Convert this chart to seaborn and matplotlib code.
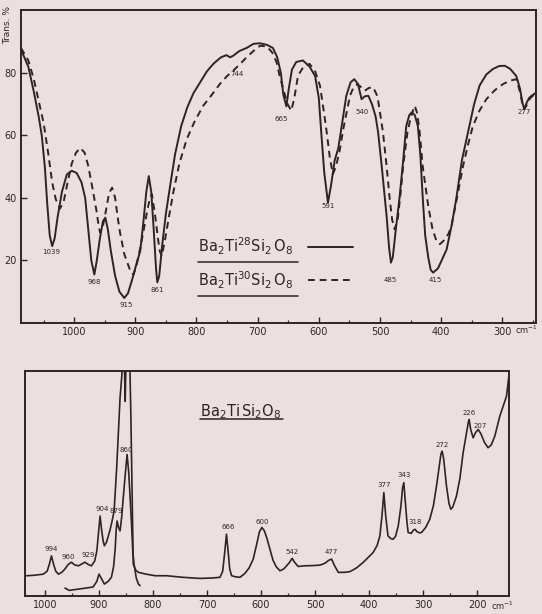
import matplotlib
matplotlib.use("Agg")
import matplotlib.pyplot as plt
import numpy as np
import pandas as pd
import seaborn as sns

# ---- IR spectrum, Ba2Ti(28)Si2O8 (solid) ----
ir28_wn = [1087, 1075, 1066, 1058, 1053, 1048, 1044, 1040, 1036, 1032, 1027, 1020, 1012, 1004,
           996, 988, 982, 977, 972, 967, 963, 958, 953, 949, 945, 940, 933, 926, 918, 912,
           905, 898, 892, 887, 882, 878, 874, 870, 866, 864, 861, 856, 850, 843, 835, 825,
           815, 805, 794, 783, 772, 760, 751, 745, 740, 730, 718, 707, 696, 685, 675, 668,
           662, 658, 653, 649, 644, 637, 626, 615, 606, 600, 596, 591, 585, 580, 574, 568,
           561, 555, 548, 542, 536, 530, 525, 519, 513, 507, 503, 497, 492, 489, 485, 482,
           479, 474, 468, 462, 457, 452, 448, 443, 438, 434, 430, 426, 421, 417, 413, 405,
           398, 391, 383, 375, 366, 356, 346, 337, 326, 315, 305, 296, 287, 277, 271, 267,
           264, 260, 256, 252, 246]
ir28_t = [87.5, 82, 74, 66, 60, 50, 38, 28, 24.6, 27, 34, 42, 47.5, 48.7,
          48, 45, 40, 30, 20, 15.5, 20, 27, 32.5, 33.7, 30, 23, 15, 10, 8, 9.5,
          14, 19, 23, 32, 42, 47, 42, 30, 17, 13, 15, 25, 35, 44, 54, 63,
          69, 73.5, 77, 80.5, 83, 85, 85.7, 85, 85.5, 87, 88, 89.3, 89.5, 89, 88, 85,
          80, 73, 69.3, 75, 81, 83.5, 84, 82, 79, 72, 61, 48, 38.5, 44, 52, 56,
          65, 72.7, 77, 78, 76.5, 71.6, 72.5, 72.7, 70, 66, 61, 50, 40, 34, 24, 19.3,
          21, 30, 40, 52, 63, 66.5, 67.4, 66.5, 63, 54, 40, 28, 21, 17, 16.1, 17.5,
          20.5, 23.5, 31, 40, 52, 61, 70, 76, 79.5, 81.3, 82.2, 82.3, 81.3, 79, 75, 70.5,
          68.4, 70.5, 72, 72.7, 73.5]

# ---- IR spectrum, Ba2Ti(30)Si2O8 (dashed) ----
ir30_wn = [1087, 1075, 1066, 1058, 1050, 1043, 1036, 1030, 1023, 1017, 1012, 1004, 997, 990,
           983, 977, 970, 963, 960, 957.5, 953, 948, 943, 938, 933, 929, 925, 918, 911, 907,
           903, 898, 892, 887, 880, 876, 873, 868, 863, 860, 857, 852, 845, 838, 828, 816,
           803, 789, 775, 762, 750, 740, 728, 718, 707, 696, 685, 676, 669, 664, 658, 651,
           645, 640, 634, 625, 615, 606, 598, 592, 587, 582, 577, 572, 566, 560, 549, 543,
           537, 531, 525, 518, 511, 504, 495, 489, 484, 480, 476, 471, 466, 462, 455, 449,
           443, 439, 435, 430, 425, 421, 414, 408, 402, 395, 388, 383, 374, 364, 356, 348,
           337, 326, 312, 299, 288, 277, 271, 267, 264, 259, 254, 250, 246]
ir30_t = [88, 84, 78, 71, 64, 55, 45, 39.5, 36.6, 39, 43.8, 51, 54.5, 56,
          54.5, 50.3, 43, 35.3, 31, 28.9, 31, 36, 41.5, 43.3, 40, 34, 28.9, 22, 18.2, 16,
          15.5, 18.5, 24, 29, 36.5, 40, 41.2, 35, 27, 23, 21.4, 26, 34, 41.7, 51, 58.8,
          64.5, 69.5, 73, 76.4, 79, 80.7, 83, 85, 87, 88.7, 88.5, 86.5, 83.4, 79, 74.8, 70,
          67.9, 72, 79.1, 82, 82.9, 80.5, 75.9, 68, 61, 53, 47.6, 50, 55, 62, 72.7, 75.5,
          76.4, 75.5, 74.3, 75.2, 75.4, 72.5, 61, 50, 39.6, 33, 30, 33, 42, 50.3, 61, 66.3,
          69.5, 67, 61, 50, 43, 37.4, 30, 26.5, 25.2, 26.5, 28.5, 31, 40, 50.3, 57, 63,
          68, 71.6, 74.5, 76.4, 77.5, 78, 74, 70, 68.4, 70, 72, 72.7, 73.5]

ir_labels = ["1039", "968", "915", "861", "744", "665", "591", "540", "485", "415", "277"]
ir_label_wn = [1037.6, 967.3, 915, 864.5, 734, 662, 585, 529.7, 482.4, 409, 263.6]
ir_label_t = [22.6, 13, 5.9, 10.4, 79.6, 65.2, 37.4, 67.4, 13.9, 13.6, 67.4]

# ---- Raman spectrum, Ba2TiSi2O8 ----
ram_wn = [1034, 1020, 1010, 1003, 996, 992, 988, 984, 980, 975, 969, 963, 957, 951,
          945, 938, 932, 926, 920, 914, 908, 904, 901, 898, 895, 892, 890, 886, 880, 876,
          872, 870, 867, 864, 861, 858, 856, 853, 851.5, 850, 843, 841, 839.6, 838, 836.6,
          832, 827, 815, 796, 775, 745, 713, 690, 676, 671, 667, 664, 661, 658, 654.5,
          647, 639, 630, 622, 614.5, 608, 603, 598.5, 594, 589, 583.6, 578, 572, 565, 558,
          552.7, 547, 542.4, 538, 531.3, 520, 505, 491, 482, 475, 469.5, 464, 457, 446,
          435.6, 423, 411, 400, 392.5, 385, 380, 376, 372.7, 369, 365, 360, 355.5, 351,
          346, 341, 338, 335.7, 333, 330, 327.7, 322, 318, 315, 311, 306, 302.9, 295,
          287.6, 281, 275.2, 270, 267, 264.8, 262, 256.7, 252, 248.7, 245, 238.2, 232,
          225.9, 220, 216, 214.8, 212, 207.4, 203, 198, 193, 186, 179.7, 174, 167.3, 158,
          150, 145.7, 141]
ram_i = [9.0, 9.2, 9.5, 9.7, 11, 14, 17.8, 14, 11, 9.7, 10.5, 12, 14, 15,
         13.8, 13.4, 14.2, 15, 14, 13.4, 15.5, 20, 28, 35.5, 29, 24, 22.3, 24, 28.9, 33,
         37.7, 46, 58, 73, 88, 97, 104, 104, 86.4, 104, 104, 80, 58.4, 35, 14.2,
         11.5, 10.5, 9.8, 9.0, 9.0, 8.3, 7.8, 8.0, 8.3, 11, 20, 27.4, 20, 12, 9.0,
         8.5, 8.3, 10, 12.5, 16.4, 23, 28.5, 30.4, 29, 25.5, 20.8, 16, 13, 11.2, 12,
         13.4, 15, 16.7, 15, 13.1, 13.4, 13.5, 13.7, 14.5, 15.8, 16.4, 13.5, 10.5, 10.5,
         10.8, 12.5, 14.9, 17.5, 19.3, 22.5, 26.7, 36, 45.9, 35, 26.7, 25.5, 25.2, 26.5,
         31.1, 40, 48, 50.3, 42, 33, 28.2, 27.8, 29.2, 29.6, 28.5, 28, 28.2, 30.5,
         34.1, 40, 48.8, 58, 63, 64.3, 61, 48.8, 41, 38.5, 39.5, 44.4, 52,
         63.6, 72, 77.5, 78.3, 74, 70.2, 72.5, 73.9, 72, 68, 65.8, 67, 70.9, 79.8,
         85.5, 88.6, 98]

# lower-gain trace of the 860 band
ram_low_wn = [963, 955, 940, 925, 911, 904, 900, 896, 890, 883, 877, 873, 870, 868, 866.5,
              864, 861, 858, 855, 851, 848, 845, 842, 840, 837.5, 835, 831, 827, 824]
ram_low_i = [3.5, 2.5, 3, 3.5, 4, 6.5, 9.7, 8, 5.3, 6.5, 8.3, 13, 21, 30, 33.3,
             30.5, 28.9, 35, 43.8, 55, 62.8, 55, 42, 33, 20, 14, 8, 5.3, 4.6]

ram_labels = ["994", "960", "929", "904", "879", "860", "666", "600", "542", "477",
              "377", "343", "318", "272", "226", "207"]
ram_label_wn = [988.9, 957.4, 920.4, 894.5, 868.6, 848.8, 661.4, 598.4, 542.9, 468.9,
                372.7, 335.7, 315.3, 264.1, 214.4, 193.8]
ram_label_i = [20.8, 17.3, 18.1, 38.5, 37.6, 65, 30.5, 32.7, 19.5, 19.5,
               49.1, 53.5, 32.7, 66.8, 81.4, 75.4]

paper = "#ebe0df"
ink = "#2b2527"

sns.set_style("ticks")
plt.rcParams["font.family"] = ["DejaVu Sans"]

fig = plt.figure(figsize=(5.42, 6.14), dpi=100)
fig.patch.set_facecolor(paper)

ax1 = fig.add_axes([0.0387, 0.474, 0.950, 0.509])
ax2 = fig.add_axes([0.0461, 0.0293, 0.893, 0.367])

for ax in (ax1, ax2):
    ax.set_facecolor(paper)
    for s in ax.spines.values():
        s.set_color(ink)
        s.set_linewidth(1.4)
    ax.tick_params(direction="in", colors=ink, labelsize=7, width=1.0, length=4, pad=3)
    ax.tick_params(which="minor", direction="in", colors=ink, width=0.9, length=2.5)

# top: IR
df28 = pd.DataFrame({"wn": ir28_wn, "T": ir28_t})
df30 = pd.DataFrame({"wn": ir30_wn, "T": ir30_t})
sns.lineplot(data=df28, x="wn", y="T", ax=ax1, sort=False, estimator=None,
             color=ink, linewidth=1.4)
sns.lineplot(data=df30, x="wn", y="T", ax=ax1, sort=False, estimator=None,
             color=ink, linewidth=1.4, linestyle=(0, (3.5, 2.5)))
ax1.set_xlim(1087, 245)
ax1.set_ylim(0, 100)
ax1.set_xticks([1000, 900, 800, 700, 600, 500, 400, 300])
ax1.set_xticks([1050, 950, 850, 750, 650, 550, 450, 350, 250], minor=True)
ax1.set_yticks([20, 40, 60, 80])
ax1.set_xlabel("")
ax1.set_ylabel("")
for lab, x, y in zip(ir_labels, ir_label_wn, ir_label_t):
    ax1.text(x, y, lab, fontsize=5, ha="center", va="center", color=ink)

# legend-like labels
ax1.text(797, 24.5, r"$\mathrm{Ba_2Ti^{28}Si_2\,O_8}$", fontsize=10.5, ha="left",
         va="center", color=ink)
ax1.text(797, 13.5, r"$\mathrm{Ba_2Ti^{30}Si_2\,O_8}$", fontsize=10.5, ha="left",
         va="center", color=ink)
ax1.plot([797, 634], [19.6, 19.6], color=ink, lw=1.1)
ax1.plot([797, 634], [8.7, 8.7], color=ink, lw=1.1)
ax1.plot([618, 544], [24.2, 24.2], color=ink, lw=1.4)
ax1.plot([618, 544], [13.6, 13.6], color=ink, lw=1.4, linestyle=(0, (3.5, 2.5)))

fig.text(8 / 542, 1 - 25 / 614, "Trans. %", rotation=90, fontsize=6.5,
         ha="center", va="center", color=ink)
fig.text(526 / 542, 1 - 330 / 614, r"cm$^{-1}$", fontsize=6, ha="center",
         va="center", color=ink)

# bottom: Raman
dfr = pd.DataFrame({"wn": ram_wn, "I": ram_i})
dfl = pd.DataFrame({"wn": ram_low_wn, "I": ram_low_i})
sns.lineplot(data=dfr, x="wn", y="I", ax=ax2, sort=False, estimator=None,
             color=ink, linewidth=1.2)
sns.lineplot(data=dfl, x="wn", y="I", ax=ax2, sort=False, estimator=None,
             color=ink, linewidth=1.2)
ax2.set_xlim(1037, 141)
ax2.set_ylim(0, 100)
ax2.set_xticks([1000, 900, 800, 700, 600, 500, 400, 300, 200])
ax2.set_xticks([950, 850, 750, 650, 550, 450, 350, 250], minor=True)
ax2.set_yticks([])
ax2.set_xlabel("")
ax2.set_ylabel("")
for lab, x, y in zip(ram_labels, ram_label_wn, ram_label_i):
    ax2.text(x, y, lab, fontsize=5, ha="center", va="center", color=ink)

ax2.text(713, 82, r"$\mathrm{Ba_2Ti\,Si_2O_8}$", fontsize=10.5, ha="left",
         va="center", color=ink)
ax2.plot([713, 560], [78.5, 78.5], color=ink, lw=1.1)
fig.text(502 / 542, 1 - 606 / 614, r"cm$^{-1}$", fontsize=6, ha="center",
         va="center", color=ink)

fig.savefig("out.png", dpi=100, facecolor=paper)
